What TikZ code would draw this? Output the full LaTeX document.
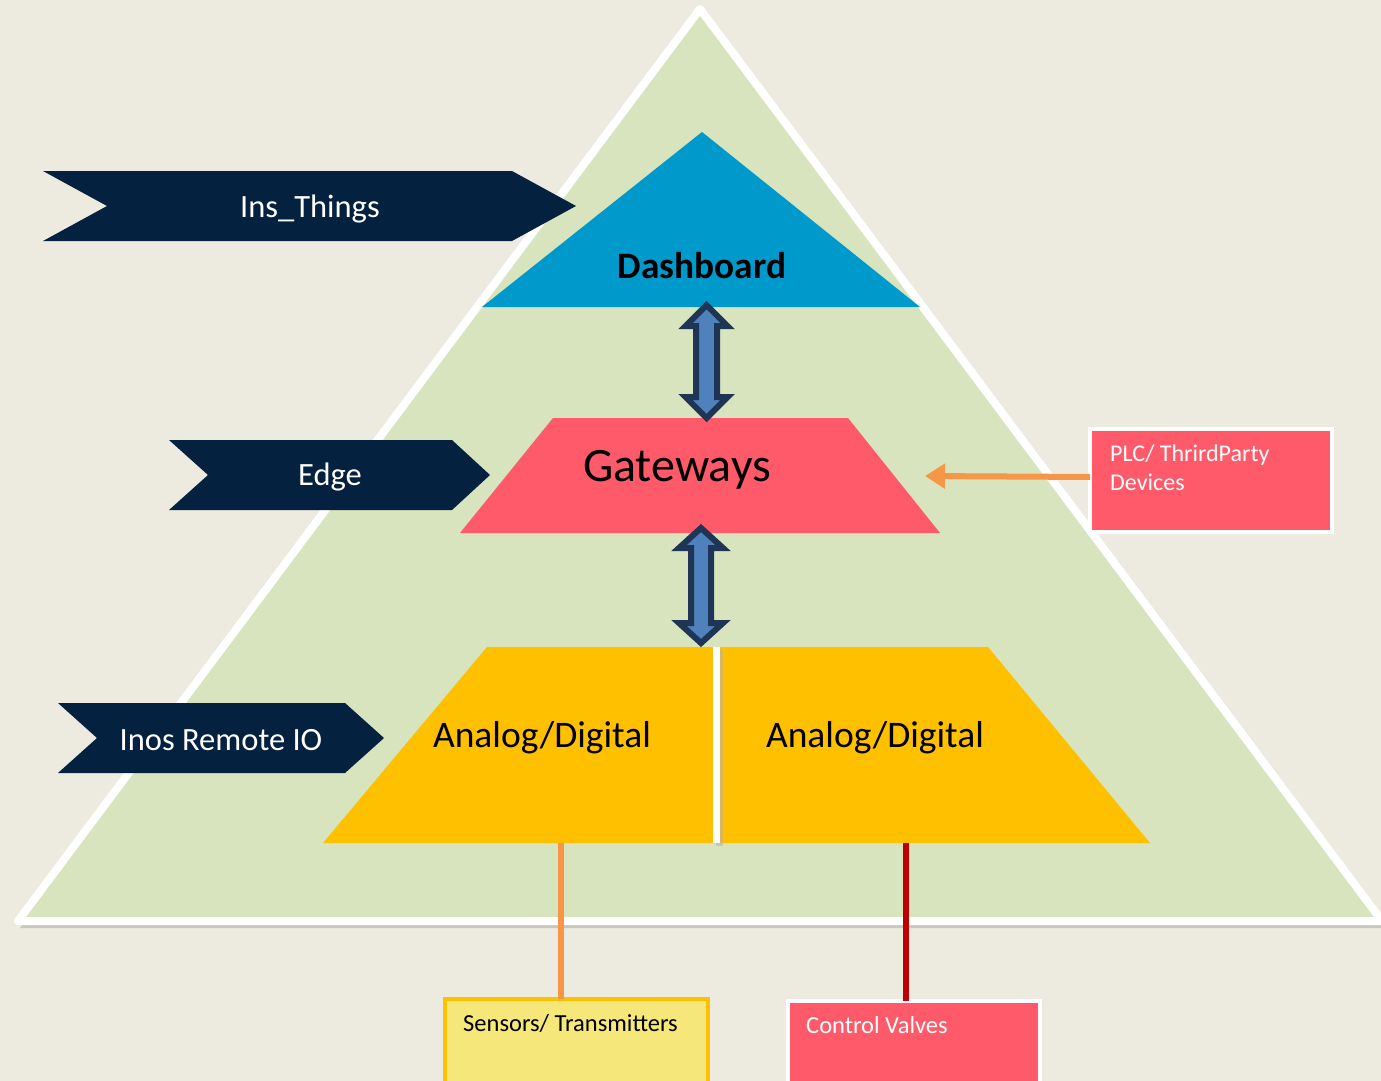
\documentclass[tikz,border=0pt]{standalone}
\usepackage{fontspec}
\setmainfont{Carlito}
\usetikzlibrary{arrows.meta}
\definecolor{bgc}{HTML}{EDEBE0}
\definecolor{greenc}{HTML}{D7E4BD}
\definecolor{dashc}{HTML}{0099CC}
\definecolor{redc}{HTML}{FF5A6A}
\definecolor{yelc}{HTML}{FFC000}
\definecolor{navyc}{HTML}{04213F}
\definecolor{arrfill}{HTML}{4F81BD}
\definecolor{arrline}{HTML}{1F3556}
\definecolor{orangec}{HTML}{F79646}
\definecolor{darkred}{HTML}{C00000}
\definecolor{sensc}{HTML}{F5E77A}
\tikzset{
  chevron/.style={fill=navyc},
  chevtext/.style={text=white, font=\fontsize{32.5}{38}\selectfont, inner sep=0pt},
  bigtext/.style={text=black, inner sep=0pt},
  dblarrow/.style={fill=arrfill, draw=arrline, line width=6pt, line join=miter},
  boxtext/.style={anchor=base west, inner sep=0pt, font=\fontsize{24.5}{29}\selectfont},
  boxshape/.style={line width=4pt, anchor=north west, inner sep=0pt, outer sep=0pt},
  conn/.style={line width=6pt},
}
\begin{document}
\begin{tikzpicture}[x=1pt,y=-1pt]
\useasboundingbox (0,0) rectangle (1381,1081);
\fill[bgc] (0,0) rectangle (1381,1081);
% big triangle shadow
\fill[black!40, opacity=0.45] (702,15) -- (20,928) -- (1386,928) -- cycle;
% big triangle
\draw[fill=greenc, draw=white, line width=8pt, line join=round] (700,9) -- (18,921) -- (1382,921) -- cycle;
% Dashboard
\fill[dashc] (702,132) -- (920,307) -- (482,307) -- cycle;
\node[bigtext, font=\bfseries\fontsize{37.3}{44}\selectfont] (dash) at (702,266) {Dashboard};
% Gateways
\fill[redc] (553,418) -- (848,418) -- (940,533) -- (460,533) -- cycle;
\node[bigtext, font=\fontsize{48}{57}\selectfont] (gw) at (677,470) {Gateways};
% Analog/Digital
\fill[yelc] (487,647) -- (988,647) -- (1150,843) -- (323,843) -- cycle;
\fill[black!30, opacity=0.5] (716,649) rectangle (723,846);
\fill[white] (713,647) rectangle (720,843);
\node[bigtext, font=\fontsize{37.5}{45}\selectfont] (ad1) at (542,738) {Analog/Digital};
\node[bigtext, font=\fontsize{37.5}{45}\selectfont] (ad2) at (875,738) {Analog/Digital};
% double arrows
\draw[dblarrow] (706.5,305) -- (685.5,326) -- (696,326) -- (696,397) -- (685.5,397) -- (706.5,418)
  -- (727.5,397) -- (717,397) -- (717,326) -- (727.5,326) -- cycle;
\draw[dblarrow] (701,528) -- (679,548) -- (691,548) -- (691,623) -- (679,623) -- (701,643)
  -- (723,623) -- (711,623) -- (711,548) -- (723,548) -- cycle;
% chevrons
\fill[chevron] (43,171) -- (512,171) -- (576,206) -- (512,241) -- (43,241) -- (107,206) -- cycle;
\node[chevtext] (ins) at (310,209) {Ins\_Things};
\fill[chevron] (169,440) -- (452,440) -- (490,475) -- (452,510) -- (169,510) -- (208,475) -- cycle;
\node[chevtext] (edge) at (330,477) {Edge};
\fill[chevron] (58,703) -- (345,703) -- (384,738) -- (345,773) -- (58,773) -- (97,738) -- cycle;
\node[chevtext] (inos) at (221,740) {Inos Remote IO};
% PLC box
\node[boxshape, draw=white, fill=redc, minimum width=242pt, minimum height=103pt] (plc) at (1090,429) {};
\node[boxtext, text=white, font=\fontsize{24}{29}\selectfont] (plct1) at (1110,461) {PLC/ ThrirdParty};
\node[boxtext, text=white, font=\fontsize{24}{29}\selectfont] (plct2) at (1110,490) {Devices};
\coordinate (gwr) at (925,476);
\draw[orangec, line width=6pt, -{Triangle[length=20pt,width=24pt]}] (plc.west |- 0,477) -- (gwr);
% Sensors box
\node[boxshape, draw=yelc, fill=sensc, minimum width=263pt, minimum height=100pt] (sens) at (445,999) {};
\node[boxtext, text=black] (senst) at (463,1031) {Sensors/ Transmitters};
% Control valves box
\node[boxshape, draw=white, fill=redc, minimum width=252pt, minimum height=100pt] (cv) at (788,1001) {};
\node[boxtext, text=white] (cvt) at (806,1033) {Control Valves};
% connectors
\coordinate (s1) at (561,843);
\coordinate (c1) at (906,843);
\draw[orangec, conn] (s1) -- (s1 |- sens.north);
\draw[darkred, conn] (c1) -- (c1 |- cv.north);
\end{tikzpicture}
\end{document}
